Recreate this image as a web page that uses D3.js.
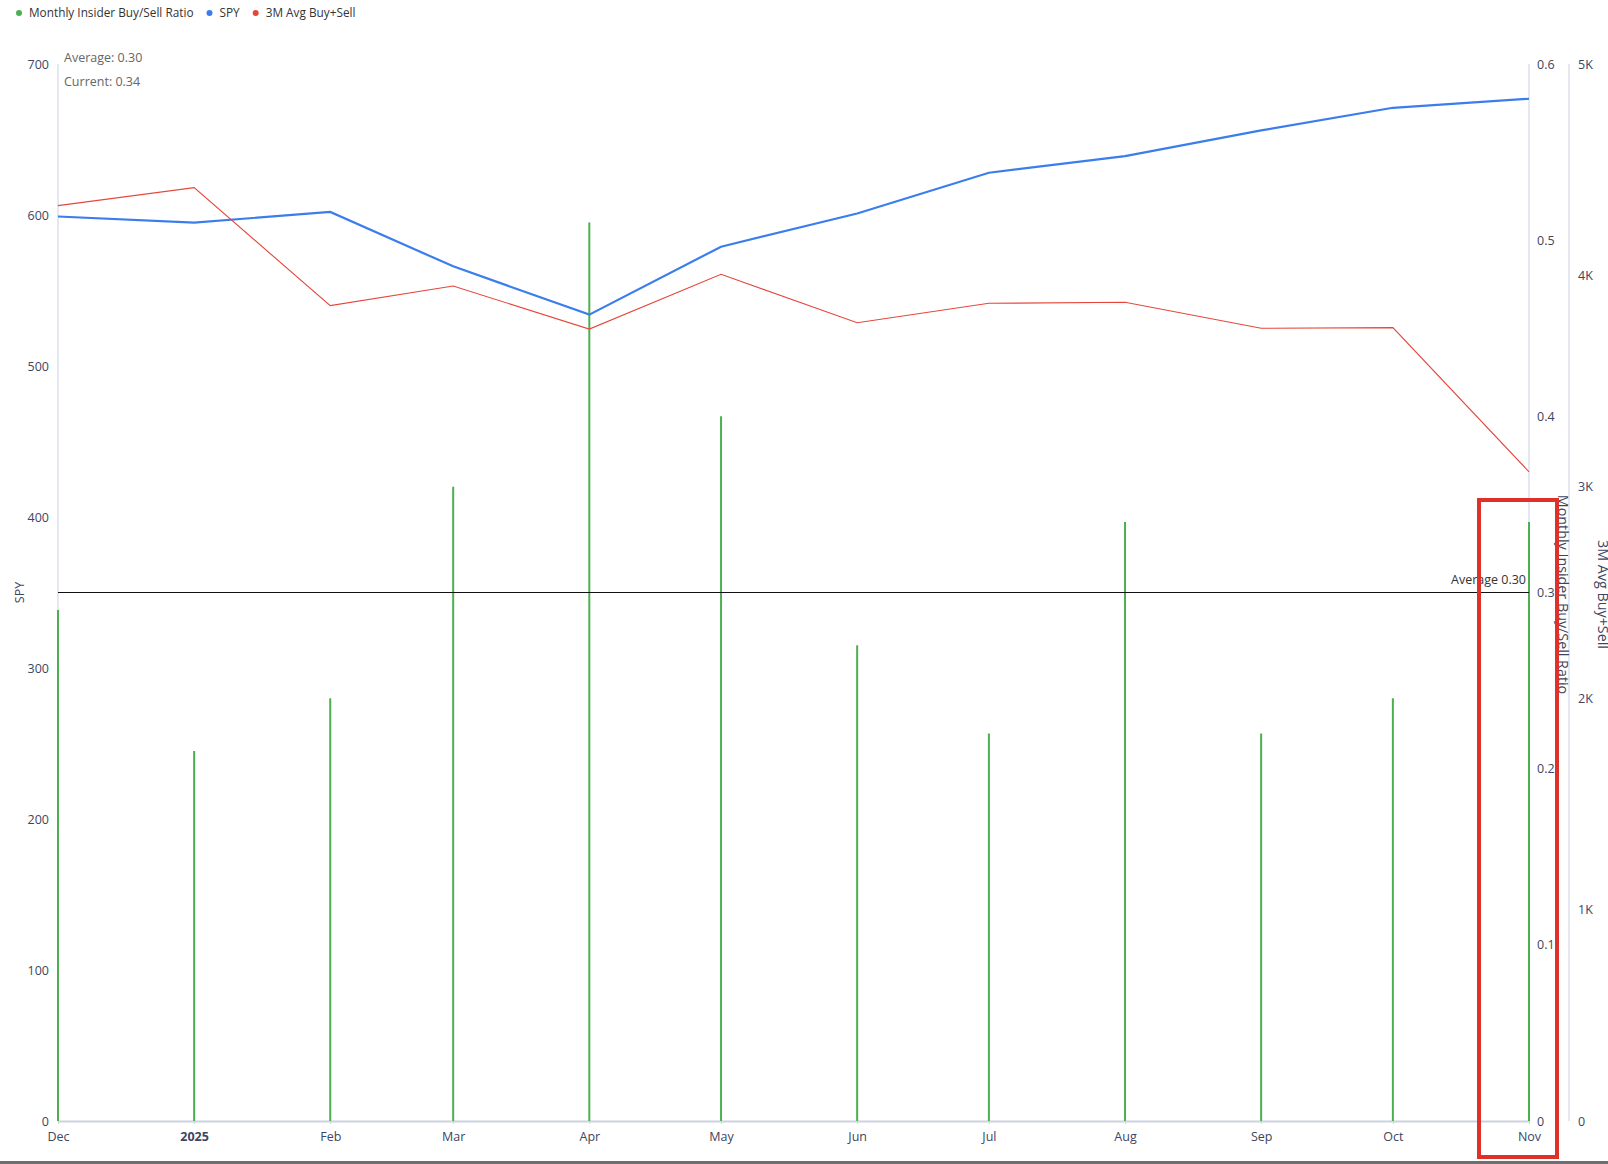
<!DOCTYPE html>
<html>
<head>
<meta charset="utf-8">
<script src="https://cdn.jsdelivr.net/npm/d3@7"></script>
<style>
  body { margin: 0; background: #fff; }
  text { font-family: "Open Sans", "Noto Sans", sans-serif; }
</style>
</head>
<body>
<div id="chart"></div>
<script>

// data
var months   = ["2024-12-01", "2025-01-01", "2025-02-01", "2025-03-01", "2025-04-01", "2025-05-01",
                "2025-06-01", "2025-07-01", "2025-08-01", "2025-09-01", "2025-10-01", "2025-11-01"];
var ratio    = [0.29, 0.21, 0.24, 0.36, 0.51, 0.40, 0.27, 0.22, 0.34, 0.22, 0.24, 0.34];
var spy      = [599, 595, 602, 566, 534, 579, 601, 628, 639, 656, 671, 677];
var buySell  = [4330, 4415, 3857, 3950, 3746, 4005, 3776, 3868, 3873, 3750, 3753, 3071];
var average  = 0.30;
var current  = 0.34;
var spyTicks   = [0, 100, 200, 300, 400, 500, 600, 700];
var ratioTicks = [0, 0.1, 0.2, 0.3, 0.4, 0.5, 0.6];
var bsTicks    = [0, 1000, 2000, 3000, 4000, 5000];
var legend = [
  {name: "Monthly Insider Buy/Sell Ratio", color: "#4caf50"},
  {name: "SPY", color: "#3b7ded"},
  {name: "3M Avg Buy+Sell", color: "#e5473c"}
];

var W = 1608, H = 1164;
var plotLeft = 58, plotRight = 1529, plotTop = 64, plotBottom = 1121, axis2X = 1569;
var labelColor = "#3d4561";

var parse = d3.timeParse("%Y-%m-%d");
var dates = months.map(parse);

var svg = d3.select("#chart").append("svg")
  .attr("width", W).attr("height", H);

var x = d3.scaleTime().domain(d3.extent(dates)).range([plotLeft, plotRight]);
var ySpy = d3.scaleLinear().domain([0, 700]).range([plotBottom, plotTop]);
var yRatio = d3.scaleLinear().domain([0, 0.6]).range([plotBottom, plotTop]);
var yBs = d3.scaleLinear().domain([0, 5000]).range([plotBottom, plotTop]);

// legend
var lx = 19;
legend.forEach(function(d) {
  svg.append("circle").attr("cx", lx).attr("cy", 13).attr("r", 3).attr("fill", d.color);
  var t = svg.append("text").attr("x", lx + 10).attr("y", 17)
    .attr("font-size", 11.8).attr("fill", "#333").text(d.name);
  lx += t.node().getComputedTextLength() + 26;
});

// axis lines
[plotLeft, plotRight, axis2X].forEach(function(px) {
  svg.append("line").attr("x1", px).attr("x2", px).attr("y1", plotTop).attr("y2", plotBottom)
    .attr("stroke", "#d3d8e6").attr("stroke-width", 1.2);
});

// left axis
var gl = svg.append("g").attr("transform", "translate(" + plotLeft + ",0)")
  .call(d3.axisLeft(ySpy).tickValues(spyTicks).tickSize(0).tickPadding(9));
gl.select(".domain").remove();

// right axis 1
var gr = svg.append("g").attr("transform", "translate(" + plotRight + ",0)")
  .call(d3.axisRight(yRatio).tickValues(ratioTicks).tickSize(0).tickPadding(8)
    .tickFormat(function(d) { return d === 0 ? "0" : d3.format(".1f")(d); }));
gr.select(".domain").remove();

// right axis 2
var gr2 = svg.append("g").attr("transform", "translate(" + axis2X + ",0)")
  .call(d3.axisRight(yBs).tickValues(bsTicks).tickSize(0).tickPadding(9)
    .tickFormat(function(d) { return d === 0 ? "0" : (d / 1000) + "K"; }));
gr2.select(".domain").remove();

// x axis
var gx = svg.append("g").attr("transform", "translate(0," + plotBottom + ")")
  .call(d3.axisBottom(x).tickValues(dates).tickSize(3).tickPadding(8).tickSizeOuter(0)
    .tickFormat(function(d) { return d.getMonth() === 0 ? d3.timeFormat("%Y")(d) : d3.timeFormat("%b")(d); }));
gx.select(".domain").attr("stroke", "#ccd2e0").attr("stroke-width", 2);
gx.selectAll(".tick line").attr("stroke", "#ccd2e0");
gx.selectAll(".tick text").filter(function(d) { return d.getMonth() === 0; })
  .attr("font-weight", "bold");

svg.selectAll(".tick text").attr("font-family", "'Open Sans', sans-serif")
  .attr("font-size", 12.5).attr("fill", labelColor);

// axis titles
var midY = (plotTop + plotBottom) / 2;
svg.append("text").attr("transform", "translate(24," + midY + ") rotate(-90)")
  .attr("text-anchor", "middle").attr("font-size", 12.5).attr("fill", labelColor).text("SPY");
svg.append("text").attr("transform", "translate(1558," + (midY + 2) + ") rotate(90)")
  .attr("text-anchor", "middle").attr("font-size", 14.3).attr("fill", labelColor).text("Monthly Insider Buy/Sell Ratio");
svg.append("text").attr("transform", "translate(1598," + (midY + 2) + ") rotate(90)")
  .attr("text-anchor", "middle").attr("font-size", 14.3).attr("fill", labelColor).text("3M Avg Buy+Sell");

// ratio bars
svg.selectAll(".bar").data(dates).enter().append("line")
  .attr("x1", function(d) { return x(d); }).attr("x2", function(d) { return x(d); })
  .attr("y1", yRatio(0)).attr("y2", function(d, i) { return yRatio(ratio[i]); })
  .attr("stroke", legend[0].color).attr("stroke-width", 2);

// average line
svg.append("line").attr("x1", plotLeft).attr("x2", plotRight)
  .attr("y1", yRatio(average)).attr("y2", yRatio(average))
  .attr("stroke", "#111").attr("stroke-width", 1);
svg.append("text").attr("x", plotRight - 3).attr("y", yRatio(average) - 9)
  .attr("text-anchor", "end").attr("font-size", 12.5).attr("fill", "#333")
  .text("Average " + average.toFixed(2));

// SPY line
svg.append("path").datum(spy)
  .attr("fill", "none").attr("stroke", legend[1].color).attr("stroke-width", 2.2)
  .attr("d", d3.line().x(function(d, i) { return x(dates[i]); }).y(function(d) { return ySpy(d); }));

// 3M avg line
svg.append("path").datum(buySell)
  .attr("fill", "none").attr("stroke", legend[2].color).attr("stroke-width", 1.1)
  .attr("d", d3.line().x(function(d, i) { return x(dates[i]); }).y(function(d) { return yBs(d); }));

// stats
svg.append("text").attr("x", 64).attr("y", 62).attr("font-size", 12.5).attr("fill", "#666")
  .text("Average: " + average.toFixed(2));
svg.append("text").attr("x", 64).attr("y", 86).attr("font-size", 12.5).attr("fill", "#666")
  .text("Current: " + current.toFixed(2));

// highlight box
svg.append("rect").attr("x", 1479).attr("y", 500).attr("width", 78).attr("height", 657)
  .attr("fill", "none").attr("stroke", "#e0302a").attr("stroke-width", 4);

// bottom border
svg.append("rect").attr("x", 0).attr("y", 1161).attr("width", W).attr("height", 3).attr("fill", "#6f6f6f");

</script>
</body>
</html>
